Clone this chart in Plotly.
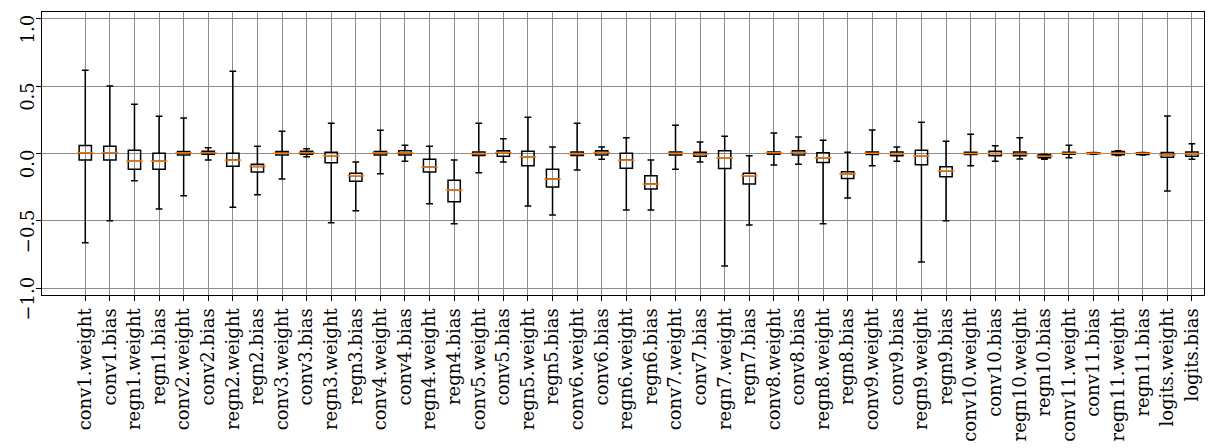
import plotly.graph_objects as go

# parameter names, one box per tensor
names = [
    "conv1.weight", "conv1.bias", "regn1.weight", "regn1.bias",
    "conv2.weight", "conv2.bias", "regn2.weight", "regn2.bias",
    "conv3.weight", "conv3.bias", "regn3.weight", "regn3.bias",
    "conv4.weight", "conv4.bias", "regn4.weight", "regn4.bias",
    "conv5.weight", "conv5.bias", "regn5.weight", "regn5.bias",
    "conv6.weight", "conv6.bias", "regn6.weight", "regn6.bias",
    "conv7.weight", "conv7.bias", "regn7.weight", "regn7.bias",
    "conv8.weight", "conv8.bias", "regn8.weight", "regn8.bias",
    "conv9.weight", "conv9.bias", "regn9.weight", "regn9.bias",
    "conv10.weight", "conv10.bias", "regn10.weight", "regn10.bias",
    "conv11.weight", "conv11.bias", "regn11.weight", "regn11.bias",
    "logits.weight", "logits.bias",
]

# box statistics (whiskers go to min / max)
w_low = [
    -0.662, -0.499, -0.202, -0.412, -0.314, -0.049, -0.398, -0.306,
    -0.190, -0.025, -0.514, -0.425, -0.151, -0.057, -0.373, -0.521,
    -0.143, -0.064, -0.390, -0.457, -0.123, -0.042, -0.420, -0.420,
    -0.116, -0.064, -0.835, -0.531, -0.086, -0.079, -0.521, -0.331,
    -0.091, -0.057, -0.805, -0.499, -0.091, -0.057, -0.040, -0.042,
    -0.032, -0.005, -0.015, -0.012, -0.279, -0.042,
]
q1 = [
    -0.049, -0.049, -0.116, -0.116, -0.012, -0.005, -0.094, -0.138,
    -0.012, -0.005, -0.069, -0.205, -0.012, -0.012, -0.138, -0.358,
    -0.015, -0.020, -0.091, -0.249, -0.015, -0.012, -0.109, -0.264,
    -0.012, -0.020, -0.111, -0.227, -0.005, -0.012, -0.067, -0.185,
    -0.007, -0.017, -0.084, -0.173, -0.007, -0.017, -0.017, -0.032,
    -0.005, -0.002, -0.010, -0.007, -0.028, -0.020,
]
med = [
    0.005, 0.005, -0.057, -0.057, 0.005, 0.005, -0.049, -0.096,
    0.002, 0.005, -0.017, -0.165, 0.005, 0.005, -0.099, -0.272,
    -0.002, 0.007, -0.025, -0.190, -0.002, 0.007, -0.049, -0.227,
    0.002, -0.005, -0.032, -0.165, 0.005, 0.007, -0.032, -0.151,
    0.002, -0.002, -0.017, -0.128, 0.000, 0.000, -0.005, -0.020,
    0.002, 0.002, 0.002, 0.002, -0.010, -0.002,
]
q3 = [
    0.059, 0.054, 0.025, 0.002, 0.015, 0.017, 0.002, -0.079,
    0.015, 0.017, 0.010, -0.146, 0.015, 0.020, -0.042, -0.198,
    0.012, 0.020, 0.017, -0.116, 0.012, 0.020, 0.002, -0.165,
    0.012, 0.010, 0.020, -0.146, 0.012, 0.020, 0.005, -0.136,
    0.012, 0.012, 0.025, -0.099, 0.010, 0.017, 0.012, -0.010,
    0.010, 0.005, 0.015, 0.005, 0.007, 0.012,
]
w_high = [
    0.617, 0.501, 0.365, 0.277, 0.264, 0.042, 0.610, 0.054,
    0.165, 0.035, 0.225, -0.064, 0.173, 0.062, 0.054, -0.049,
    0.225, 0.109, 0.269, 0.049, 0.225, 0.049, 0.116, -0.049,
    0.210, 0.086, 0.128, -0.017, 0.153, 0.123, 0.099, 0.010,
    0.175, 0.049, 0.232, 0.091, 0.143, 0.057, 0.116, -0.005,
    0.062, 0.007, 0.020, 0.007, 0.279, 0.072,
]

y_ticks = [-1.0, -0.5, 0.0, 0.5, 1.0]
y_labels = ["\u22121.0", "\u22120.5", "0.0", "0.5", "1.0"]

fig = go.Figure()

fig.add_trace(
    go.Box(
        x=names,
        q1=q1,
        median=med,
        q3=q3,
        lowerfence=w_low,
        upperfence=w_high,
        width=0.5,
        whiskerwidth=0.55,
        fillcolor="rgba(255,255,255,0)",
        line=dict(color="black", width=1.5),
        boxpoints=False,
        hoverinfo="skip",
        showlegend=False,
    )
)

# orange median lines on top
fig.add_trace(
    go.Scatter(
        x=names,
        y=med,
        mode="markers",
        marker=dict(
            symbol="line-ew",
            size=12,
            line=dict(color="#ff7f0e", width=1.5),
        ),
        hoverinfo="skip",
        showlegend=False,
    )
)

# page body has an 8px margin, so the figure is a bit smaller than the window
fig.update_layout(
    width=1208,
    height=440,
    plot_bgcolor="white",
    paper_bgcolor="white",
    font=dict(family="DejaVu Serif, Liberation Serif, serif", size=18, color="black"),
    margin=dict(l=34, r=12, t=4, b=153),
)

fig.update_xaxes(
    range=[-1.76, 45.49],
    tickangle=-90,
    ticks="outside",
    ticklen=5,
    tickcolor="black",
    showgrid=True,
    gridcolor="#8c8c8c",
    gridwidth=1,
    showline=True,
    mirror=True,
    linecolor="black",
    linewidth=1.2,
    automargin=False,
)

# rotated y labels hang just below their tick, as in the reference
fig.update_yaxes(
    range=[-1.05, 1.05],
    tickvals=y_ticks,
    ticktext=y_labels,
    tickangle=-90,
    ticklabelposition="outside bottom",
    ticks="outside",
    ticklen=5,
    tickcolor="black",
    ticklabeloverflow="allow",
    showgrid=True,
    gridcolor="#8c8c8c",
    gridwidth=1,
    zeroline=False,
    showline=True,
    mirror=True,
    linecolor="black",
    linewidth=1.2,
    automargin=False,
)

fig.write_html("out.html")
